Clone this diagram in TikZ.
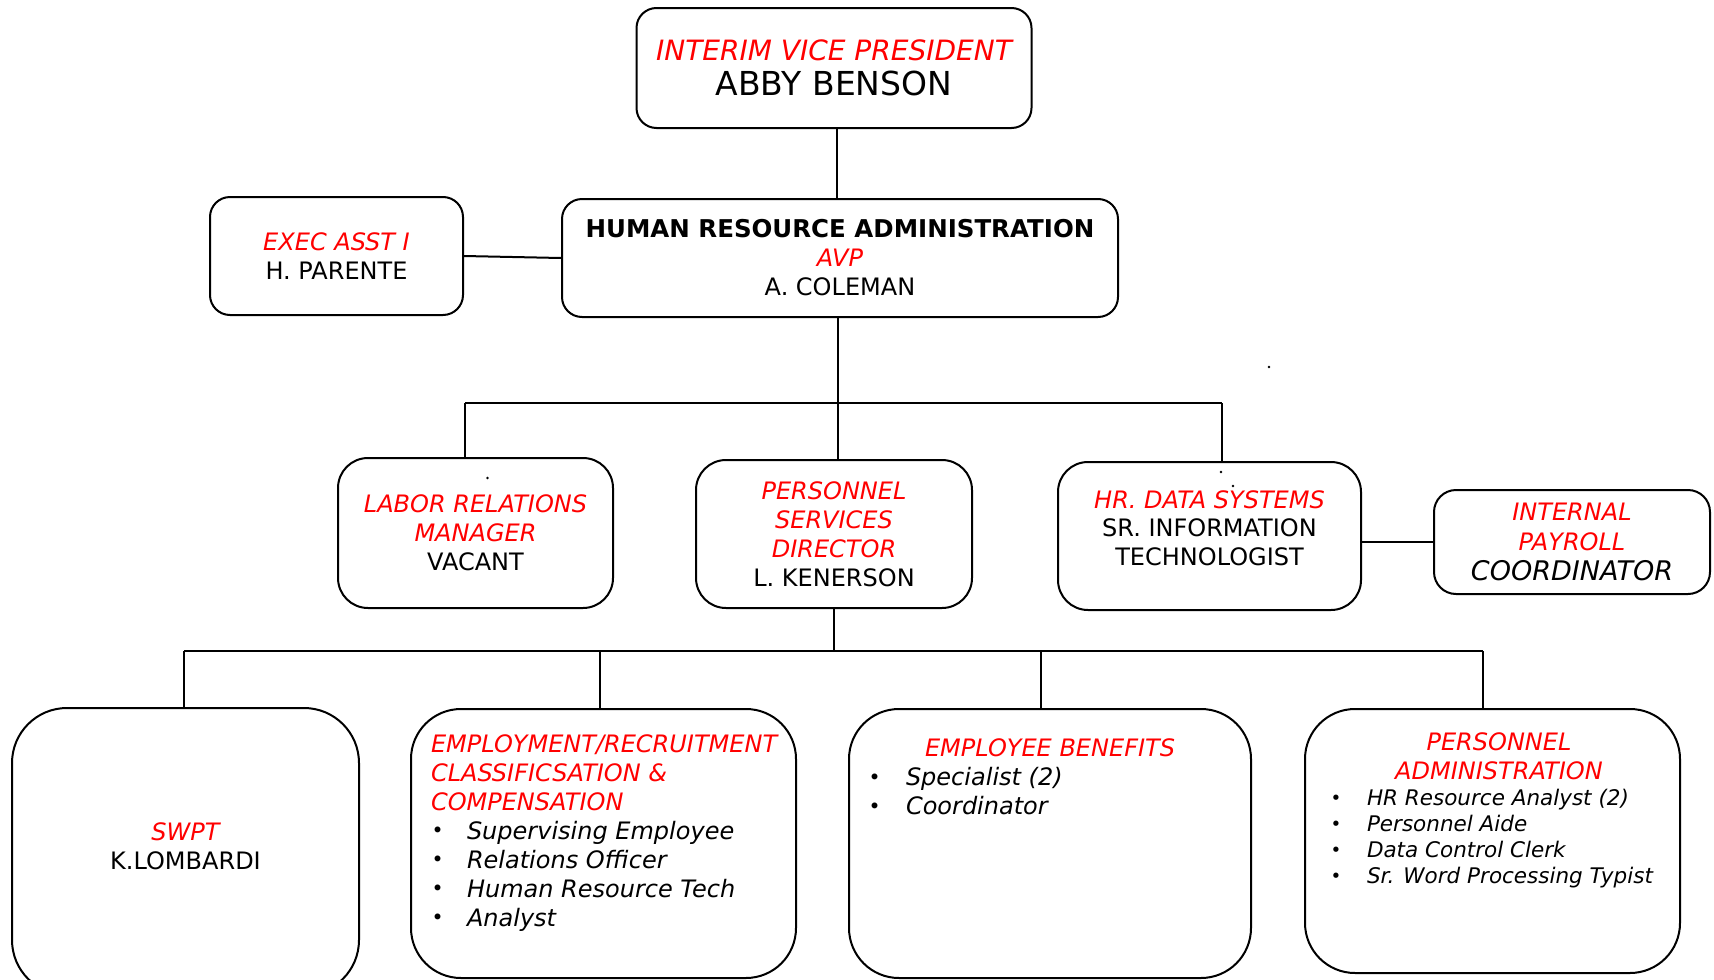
\documentclass[tikz,border=0pt]{standalone}
\usepackage{fontspec}
\setmainfont{DejaVu Sans}
\usetikzlibrary{calc}
\definecolor{tred}{RGB}{255,0,0}
\newcommand{\rd}[1]{{\color{tred}\itshape #1}}
\newcommand{\bul}[2]{\makebox[#1][l]{\hspace{0.5pt}\raisebox{0.07em}{\upshape\scalebox{0.85}{\textbullet}}}\textit{#2}}
\begin{document}
\begin{tikzpicture}[x=1pt,y=-1pt,line width=2pt,
  box/.style={draw=black,rounded corners=#1,inner sep=0pt,align=center},
  box/.default=20pt,
  txt/.style={inner sep=0pt,align=center},
  f24/.style={font=\fontsize{24}{29}\selectfont}]
\useasboundingbox (0,0) rectangle (1714,980);

% top rows
\node[box=20pt,minimum width=395pt,minimum height=120pt,font=\fontsize{33}{35}\selectfont] (vp) at (834,68)
  {{\fontsize{28}{35}\selectfont\rd{INTERIM VICE PRESIDENT}}\\ABBY BENSON};
\node[box=20pt,minimum width=556pt,minimum height=118pt,f24] (hra) at (840,258)
  {{\bfseries\fontsize{24.5}{29}\selectfont HUMAN RESOURCE ADMINISTRATION}\\\rd{AVP}\\A. COLEMAN};
\node[box=20pt,minimum width=253pt,minimum height=118pt,font=\fontsize{24}{29.5}\selectfont] (ea) at (336.5,256)
  {\rd{EXEC ASST I}\\H. PARENTE};
\node[box=30pt,minimum width=275pt,minimum height=150pt,f24] (lab) at (475.5,533)
  {\rd{LABOR RELATIONS}\\\rd{MANAGER}\\VACANT};
\node[box=30pt,minimum width=276pt,minimum height=148pt,f24] (ps) at (834,534)
  {\rd{PERSONNEL}\\\rd{SERVICES}\\\rd{DIRECTOR}\\L. KENERSON};
\node[box=30pt,minimum width=303pt,minimum height=148pt] (hrd) at (1209.5,536) {};
\node[txt,font=\fontsize{24}{28.5}\selectfont] (hrdt) at (1209.5,528)
  {\rd{HR. DATA SYSTEMS}\\SR. INFORMATION\\TECHNOLOGIST};
\node[box=22pt,minimum width=276pt,minimum height=104pt,font=\fontsize{24}{30}\selectfont] (ip) at (1572,542)
  {\rd{INTERNAL}\\\rd{PAYROLL}\\{\fontsize{27}{30}\selectfont\itshape COORDINATOR}};

% bottom row boxes
\node[box=55pt,minimum width=347pt,minimum height=287pt] (sw) at (185.5,851.5) {};
\node[box=50pt,minimum width=385pt,minimum height=269pt] (emp) at (603.5,843.5) {};
\node[box=50pt,minimum width=402pt,minimum height=269pt] (eb) at (1050,843.5) {};
\node[box=50pt,minimum width=375pt,minimum height=264pt] (pa) at (1492.5,841) {};

% bottom row texts
\node[txt,f24] (swt) at (185.5,846.5) {\rd{SWPT}\\K.LOMBARDI};
\node[txt,align=left,anchor=north west,f24] (empt) at (430,733.5)
  {\rd{EMPLOYMENT/RECRUITMENT}\\\rd{CLASSIFICSATION \&}\\\rd{COMPENSATION}\\
   \bul{36pt}{Supervising Employee}\\\bul{36pt}{Relations Officer}\\
   \bul{36pt}{Human Resource Tech}\\\bul{36pt}{Analyst}};
\node[txt,f24] (ebt) at (1050,748) {\rd{EMPLOYEE BENEFITS}};
\node[txt,align=left,anchor=north west,font=\fontsize{24}{29}\selectfont] (ebi) at (867,766.5)
  {\bul{38pt}{Specialist (2)}\\\bul{38pt}{Coordinator}};
\node[txt,f24] (pat) at (1499,756) {\rd{PERSONNEL}\\\rd{ADMINISTRATION}};
\node[txt,align=left,anchor=north west,font=\fontsize{21.5}{26}\selectfont] (pai) at (1329,788.5)
  {\bul{37pt}{HR Resource Analyst (2)}\\\bul{37pt}{Personnel Aide}\\
   \bul{37pt}{Data Control Clerk}\\\bul{37pt}{Sr. Word Processing Typist}};

% connectors
\coordinate (b1L) at (465,403);
\coordinate (b1R) at (1222,403);
\coordinate (b1m) at (837.5,403);
\coordinate (b2L) at (184,651);
\coordinate (b2R) at (1483,651);
\coordinate (b2a) at (600,651);
\coordinate (b2b) at (1041,651);
\draw (vp.south) ++(3,0) -- ($(vp.south |- hra.north)+(3,0)$);
\draw (ea.east) -- (hra.west);
\draw (b1m |- hra.south) -- (b1m) -- (b1m |- ps.north);
\draw (b1L) -- (b1R);
\draw (b1L) -- (b1L |- lab.north);
\draw (b1R) -- (b1R |- hrd.north);
\draw (hrd.east |- ip.west) -- (ip.west);
\draw (ps.south) -- (ps.south |- b2L);
\draw (b2L) -- (b2R);
\draw (b2L) -- (b2L |- sw.north);
\draw (b2a) -- (b2a |- emp.north);
\draw (b2b) -- (b2b |- eb.north);
\draw (b2R) -- (b2R |- pa.north);

% stray dots
\fill (1269,367) circle (1.3pt);
\fill (487.5,478) circle (1.3pt);
\fill (1221,472) circle (1.3pt);
\fill (1233,486) circle (1.3pt);
\end{tikzpicture}
\end{document}
